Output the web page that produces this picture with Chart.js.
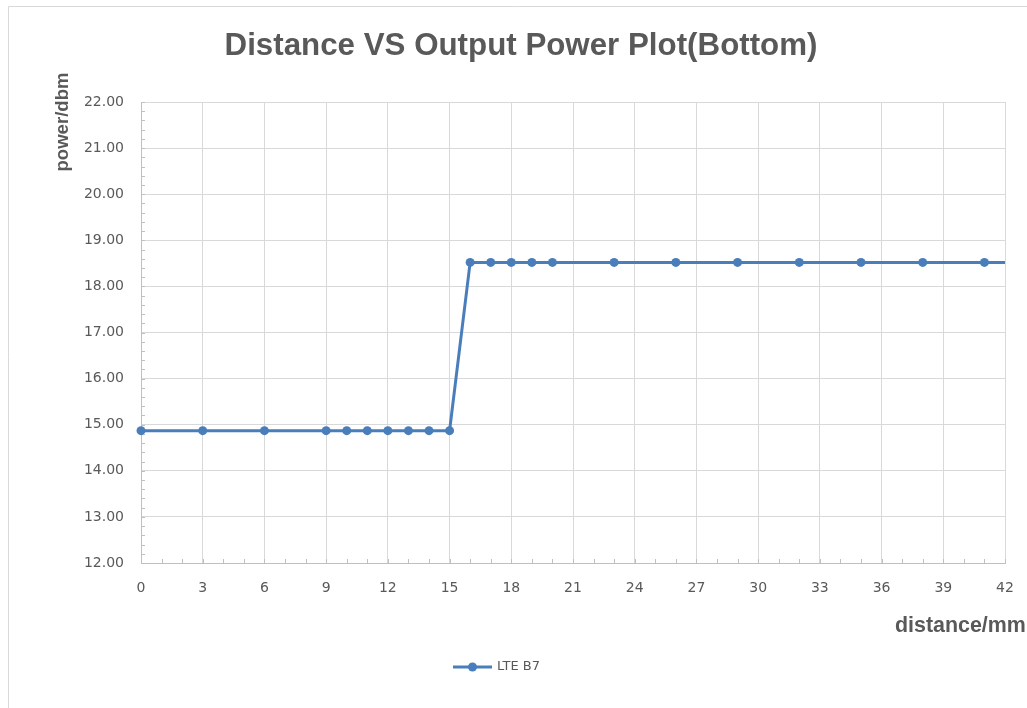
<!DOCTYPE html>
<html><head><meta charset="utf-8">
<script src="https://cdn.jsdelivr.net/npm/chart.js@4/dist/chart.umd.min.js"></script>
<style>html,body{margin:0;padding:0;background:#fff;overflow:hidden}#wrap{position:relative;width:1027px;height:708px}</style>
</head><body><div id="wrap"><canvas id="c" width="1027" height="708"></canvas></div>
<script>
const titleText = "Distance VS Output Power Plot(Bottom)";
const xTitle = "distance/mm";
const yTitle = "power/dbm";
const seriesName = "LTE B7";
const distances = [0, 3, 6, 9, 10, 11, 12, 13, 14, 15, 16, 17, 18, 19, 20, 23, 26, 29, 32, 35, 38, 41, 44];
const powers = [14.87, 14.87, 14.87, 14.87, 14.87, 14.87, 14.87, 14.87, 14.87, 14.87,
                18.52, 18.52, 18.52, 18.52, 18.52, 18.52, 18.52, 18.52, 18.52, 18.52, 18.52, 18.52, 18.52];
const xMin = 0, xMax = 42, xStep = 3, xMinorStep = 1;
const yMin = 12, yMax = 22, yStep = 1, yMinorStep = 0.2;

const LINE = '#4a7ebb';
const TXT = '#595959';
const GRID = '#d9d9d9';
const AXIS = '#bfbfbf';

function fitFont(ctx, text, weight, family, targetW) {
  ctx.font = `${weight} 20px ${family}`;
  const w = ctx.measureText(text).width;
  return 20 * targetW / w;
}

const decor = {
  id: 'decor',
  beforeDatasetsDraw(chart) {
    const ctx = chart.ctx, xs = chart.scales.x, ys = chart.scales.y;
    ctx.save();
    ctx.strokeStyle = AXIS; ctx.lineWidth = 1;
    ctx.beginPath();
    for (let v = yMin; v <= yMax + 1e-9; v += yMinorStep) {
      const y = Math.round(ys.getPixelForValue(v)) + 0.5;
      ctx.moveTo(xs.left, y); ctx.lineTo(xs.left + 4, y);
    }
    for (let v = xMin; v <= xMax + 1e-9; v += xMinorStep) {
      const x = Math.round(xs.getPixelForValue(v)) + 0.5;
      ctx.moveTo(x, ys.bottom); ctx.lineTo(x, ys.bottom - 4);
    }
    ctx.stroke();
    ctx.restore();
  },
  afterDraw(chart) {
    const ctx = chart.ctx;
    ctx.save();
    ctx.strokeStyle = GRID; ctx.lineWidth = 1;
    ctx.beginPath();
    ctx.moveTo(8.5, 708); ctx.lineTo(8.5, 6.5); ctx.lineTo(1027, 6.5);
    ctx.stroke();
    ctx.fillStyle = TXT;
    let s = fitFont(ctx, titleText, 'bold', '"Liberation Sans", Arial, sans-serif', 593);
    ctx.font = `bold ${s}px "Liberation Sans", Arial, sans-serif`;
    ctx.textAlign = 'center'; ctx.textBaseline = 'middle';
    ctx.fillText(titleText, 521, 46);
    s = fitFont(ctx, yTitle, 'bold', '"Liberation Sans", Arial, sans-serif', 99);
    ctx.save();
    ctx.translate(63, 122); ctx.rotate(-Math.PI / 2);
    ctx.font = `bold ${s}px "Liberation Sans", Arial, sans-serif`;
    ctx.textAlign = 'center'; ctx.textBaseline = 'middle';
    ctx.fillText(yTitle, 0, 0);
    ctx.restore();
    s = fitFont(ctx, xTitle, 'bold', '"Liberation Sans", Arial, sans-serif', 131);
    ctx.font = `bold ${s}px "Liberation Sans", Arial, sans-serif`;
    ctx.textAlign = 'left'; ctx.textBaseline = 'middle';
    ctx.fillText(xTitle, 895, 626);
    const ds = chart.data.datasets[0];
    ctx.strokeStyle = ds.borderColor; ctx.lineWidth = 3;
    ctx.beginPath(); ctx.moveTo(453, 667); ctx.lineTo(492, 667); ctx.stroke();
    ctx.fillStyle = ds.borderColor;
    ctx.beginPath(); ctx.arc(472.5, 667, 4.5, 0, Math.PI * 2); ctx.fill();
    ctx.fillStyle = TXT;
    ctx.font = '13px "DejaVu Sans", sans-serif';
    ctx.textAlign = 'left'; ctx.textBaseline = 'middle';
    ctx.fillText(ds.label, 497, 667);
    ctx.restore();
  }
};

const points = distances.map((d, i) => ({ x: d, y: powers[i] }));

new Chart(document.getElementById('c'), {
  type: 'scatter',
  data: {
    datasets: [{
      label: seriesName,
      data: points,
      showLine: true,
      borderColor: LINE,
      backgroundColor: LINE,
      borderWidth: 3,
      pointRadius: 4.5,
      pointBorderWidth: 0,
      pointHoverRadius: 4.5,
      tension: 0,
      clip: { left: 10, top: 10, right: 0, bottom: 10 }
    }]
  },
  options: {
    responsive: false,
    animation: false,
    devicePixelRatio: 1,
    layout: { padding: { top: 102, right: 22, bottom: 0, left: 0 } },
    plugins: { legend: { display: false }, title: { display: false }, tooltip: { enabled: false } },
    scales: {
      x: {
        type: 'linear', min: xMin, max: xMax,
        afterFit(scale) { scale.height = 145; scale.paddingRight = 0; scale.paddingLeft = 0; },
        ticks: { stepSize: xStep, color: TXT, font: { family: '"DejaVu Sans", sans-serif', size: 14 }, padding: 17, maxRotation: 0 },
        grid: { color: GRID, drawTicks: false },
        border: { color: AXIS }
      },
      y: {
        type: 'linear', min: yMin, max: yMax,
        afterFit(scale) { scale.width = 141; scale.paddingTop = 0; scale.paddingBottom = 0; },
        ticks: { stepSize: yStep, color: TXT, font: { family: '"DejaVu Sans", sans-serif', size: 14 }, padding: 17,
                 callback: v => Number(v).toFixed(2) },
        grid: { color: GRID, drawTicks: false },
        border: { color: AXIS }
      }
    }
  },
  plugins: [decor]
});
</script>
</body></html>
